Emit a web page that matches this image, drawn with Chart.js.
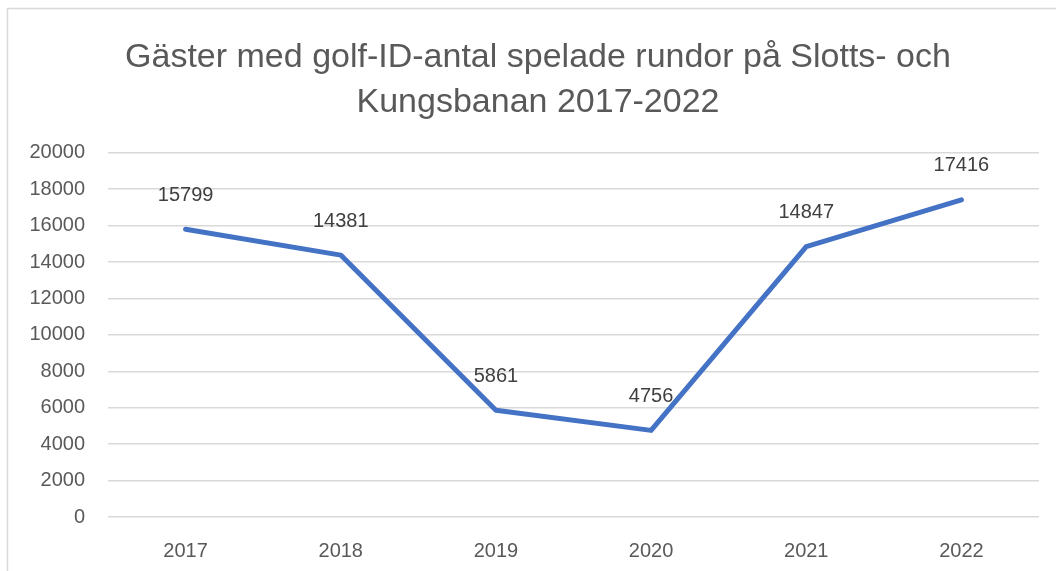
<!DOCTYPE html>
<html>
<head>
<meta charset="utf-8">
<script src="https://cdn.jsdelivr.net/npm/chart.js@4/dist/chart.umd.min.js"></script>
<style>
  html, body { margin: 0; padding: 0; background: #fff; }
  #wrap { position: relative; width: 1056px; height: 571px; }
</style>
</head>
<body>
<div id="wrap"><canvas id="lineChart"></canvas></div>
<script>
// Values
const years = ["2017", "2018", "2019", "2020", "2021", "2022"];
const rounds = [15799, 14381, 5861, 4756, 14847, 17416];
const titleLines = ["Gäster med golf-ID-antal spelade rundor på Slotts- och", "Kungsbanan 2017-2022"];

const FONT = "'Liberation Sans', 'DejaVu Sans', sans-serif";

// numbers above each point
const pointLabels = {
  id: "pointLabels",
  afterDatasetsDraw(chart) {
    const ctx = chart.ctx;
    const meta = chart.getDatasetMeta(0);
    ctx.save();
    ctx.font = "20px " + FONT;
    ctx.fillStyle = "#404040";
    ctx.textAlign = "center";
    ctx.textBaseline = "middle";
    meta.data.forEach((pt, i) => {
      ctx.fillText(String(rounds[i]), pt.x, pt.y - 34);
    });
    ctx.restore();
  }
};

// light frame: only the top and left edges show in the crop
const frame = {
  id: "frame",
  beforeDraw(chart) {
    const ctx = chart.ctx;
    ctx.save();
    ctx.strokeStyle = "#d9d9d9";
    ctx.lineWidth = 1.5;
    ctx.beginPath();
    ctx.moveTo(7.5, 571);
    ctx.lineTo(7.5, 8.5);
    ctx.lineTo(1056, 8.5);
    ctx.stroke();
    ctx.restore();
  }
};

new Chart(document.getElementById("lineChart"), {
  type: "line",
  data: {
    labels: years,
    datasets: [{
      data: rounds,
      borderColor: "#4472C4",
      borderWidth: 5,
      borderCapStyle: "round",
      borderJoinStyle: "round",
      pointRadius: 0,
      tension: 0
    }]
  },
  options: {
    responsive: true,
    maintainAspectRatio: false,
    animation: false,
    layout: { padding: { left: 20, right: 0, top: 0, bottom: 0 } },
    plugins: {
      legend: { display: false },
      tooltip: { enabled: false },
      title: {
        display: true,
        text: titleLines,
        color: "#595959",
        font: { family: FONT, size: 34, weight: "normal", lineHeight: 1.32 },
        padding: { top: 35, bottom: 28 }
      }
    },
    scales: {
      x: {
        offset: true,
        grid: { display: false },
        border: { display: false },
        ticks: { color: "#595959", font: { family: FONT, size: 20 }, padding: 14 },
        afterFit(s) { s.height = 54; }
      },
      y: {
        min: 0,
        max: 20000,
        ticks: {
          stepSize: 2000,
          color: "#595959",
          font: { family: FONT, size: 20 },
          padding: 23,
          callback: v => String(v)
        },
        grid: { color: "#d9d9d9", lineWidth: 1.5, drawTicks: false },
        border: { display: false },
        afterFit(s) { s.width = 88; }
      },
      // empty right-hand box, only keeps the plot off the right edge
      yRight: {
        position: "right",
        min: 0,
        max: 20000,
        ticks: { display: false },
        grid: { display: false },
        border: { display: false },
        afterFit(s) { s.width = 17; }
      }
    }
  },
  plugins: [frame, pointLabels]
});
</script>
</body>
</html>
